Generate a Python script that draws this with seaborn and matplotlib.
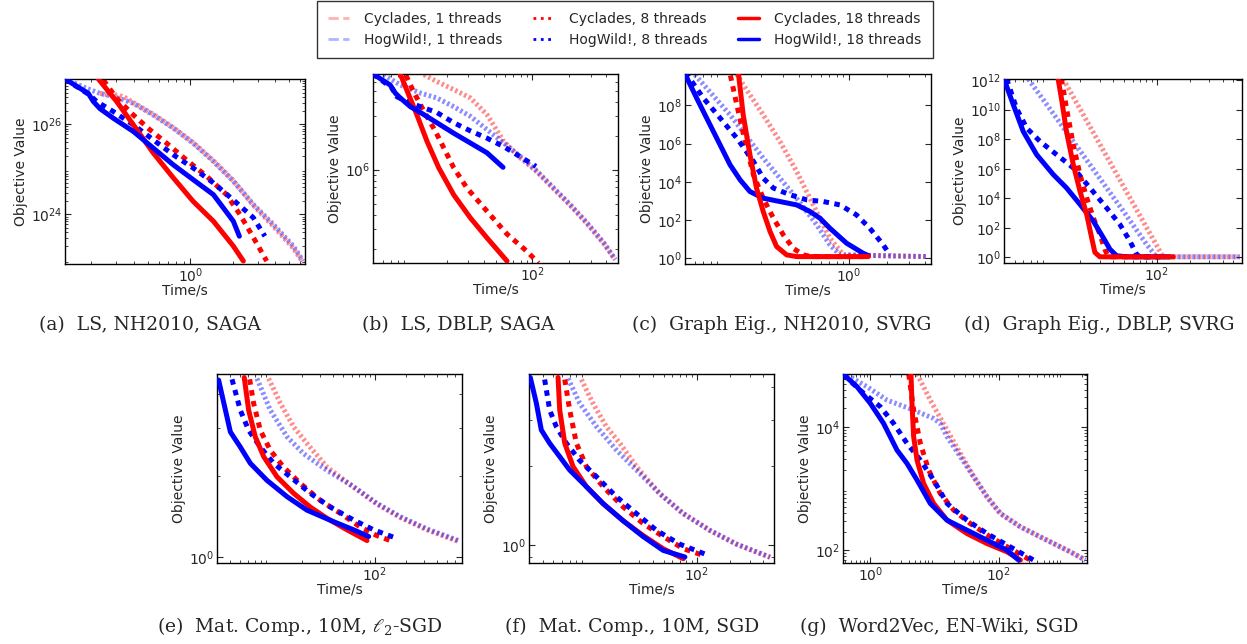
import matplotlib
matplotlib.use("Agg")
import matplotlib.pyplot as plt
import seaborn as sns
from matplotlib.lines import Line2D
from matplotlib.ticker import NullFormatter, NullLocator, LogLocator

# ---------------- DATA (time in s, objective value) ----------------
# (a) LS, NH2010, SAGA
a_cyc1_t = [0.23, 0.27, 0.31, 0.35, 0.396, 0.548, 0.759, 1.05, 1.46, 2.02, 2.80, 3.88, 5.37, 6.3]
a_cyc1_v = [4.8e26, 4.4e26, 4.4e26, 3.8e26, 3.0e26, 1.65e26, 8.4e25, 3.9e25, 1.55e25, 5.6e24, 1.6e24, 5.5e23, 1.8e23, 8.5e22]
a_hog1_t = [0.13, 0.185, 0.23, 0.286, 0.396, 0.548, 0.759, 1.05, 1.46, 2.02, 2.80, 3.88, 5.37, 6.3]
a_hog1_v = [1e27, 6.2e26, 4.8e26, 4.1e26, 2.9e26, 1.6e26, 8.2e25, 3.8e25, 1.5e25, 5.5e24, 1.66e24, 6.0e23, 2.0e23, 9.3e22]
a_cyc8_t = [0.243, 0.302, 0.396, 0.519, 0.681, 0.944, 1.31, 1.81, 2.25, 2.80, 3.48]
a_cyc8_v = [9.5e26, 3.7e26, 1.6e26, 7.5e25, 3.8e25, 1.6e25, 7.0e24, 2.75e24, 1.0e24, 3.1e23, 9.3e22]
a_hog8_t = [0.13, 0.195, 0.218, 0.286, 0.396, 0.548, 0.759, 1.05, 1.46, 2.02, 2.80, 3.38]
a_hog8_v = [1e27, 4.4e26, 3.16e26, 1.9e26, 9.7e25, 4.5e25, 2.1e25, 1.07e25, 5.0e24, 2.1e24, 8.5e23, 3.3e23]
a_cyc18_t = [0.21, 0.224, 0.302, 0.396, 0.548, 0.759, 1.05, 1.46, 2.02, 2.38]
a_cyc18_v = [1.5e27, 1e27, 3.16e26, 9.7e25, 2.3e25, 6.5e24, 1.95e24, 7.1e23, 2.0e23, 9.3e22]
a_hog18_t = [0.13, 0.19, 0.206, 0.23, 0.286, 0.396, 0.548, 0.759, 1.05, 1.46, 2.02, 2.23]
a_hog18_v = [1e27, 4.8e26, 3.2e26, 2.2e26, 1.35e26, 6.9e25, 2.95e25, 1.26e25, 5.9e24, 2.75e24, 7.1e23, 3.3e23]

# (b) LS, DBLP, SAGA
b_cyc1_t = [13.0, 16.6, 22.8, 31.2, 42.6, 58.3, 79.8, 109, 149, 204, 279, 382, 475]
b_cyc1_v = [6.9e6, 6.0e6, 5.1e6, 4.3e6, 3.06e6, 1.78e6, 1.27e6, 9.6e5, 6.8e5, 4.85e5, 3.35e5, 2.24e5, 1.6e5]
b_hog1_t = [6.1, 8.35, 12.2, 16.6, 22.8, 31.2, 42.6, 58.3, 79.8, 109, 149, 204, 279, 382, 475]
b_hog1_v = [6.9e6, 5.6e6, 4.75e6, 4.3e6, 3.6e6, 2.96e6, 2.26e6, 1.72e6, 1.31e6, 9.7e5, 6.9e5, 4.9e5, 3.4e5, 2.26e5, 1.61e5]
b_cyc8_t = [8.9, 9.18, 10.7, 13.0, 16.1, 18.9, 22.8, 29.2, 42.6, 62.1, 90.4, 112]
b_cyc8_v = [8.5e6, 7.0e6, 4.9e6, 3.3e6, 2.2e6, 1.56e6, 1.04e6, 6.9e5, 4.3e5, 2.7e5, 1.9e5, 1.5e5]
b_hog8_t = [5.0, 7.1, 7.85, 9.5, 12.2, 16.6, 22.8, 31.2, 42.6, 58.3, 79.8, 107]
b_hog8_v = [7.0e6, 5.3e6, 4.4e6, 4.0e6, 3.6e6, 3.2e6, 2.6e6, 2.2e6, 1.9e6, 1.6e6, 1.3e6, 1.07e6]
b_cyc18_t = [7.95, 8.35, 9.77, 11.4, 13.8, 17.2, 22.8, 31.2, 42.6, 62.1]
b_cyc18_v = [8.5e6, 7.0e6, 4.6e6, 3.06e6, 1.78e6, 1.04e6, 6.0e5, 3.75e5, 2.5e5, 1.56e5]
b_hog18_t = [5.0, 6.9, 7.6, 8.35, 10.1, 12.2, 16.6, 22.8, 31.2, 42.6, 57.6]
b_hog18_v = [7.0e6, 5.6e6, 4.75e6, 4.3e6, 3.6e6, 3.2e6, 2.6e6, 2.1e6, 1.72e6, 1.41e6, 1.05e6]

# (c) Graph Eig., NH2010, SVRG
c_cyc1_t = [0.129, 0.145, 0.209, 0.284, 0.385, 0.522, 0.709, 0.906, 4.15]
c_cyc1_v = [4.4e9, 1.21e9, 3.2e7, 1.3e6, 3.5e4, 6.2e2, 11.2, 1.5, 1.22]
c_hog1_t = [0.060, 0.114, 0.209, 0.385, 0.556, 0.709, 0.851, 4.15]
c_hog1_v = [4.0e9, 3.2e7, 1.74e5, 1.39e3, 56, 5.0, 1.5, 1.22]
c_cyc8_t = [0.110, 0.114, 0.129, 0.150, 0.175, 0.209, 0.252, 0.302, 0.362, 0.435, 0.507, 1.43]
c_cyc8_v = [1.35e10, 4.4e9, 1.08e8, 1.3e6, 2.3e4, 1.39e3, 1.25e2, 16.7, 3.3, 1.5, 1.22, 1.22]
c_hog8_t = [0.05, 0.0515, 0.070, 0.0949, 0.129, 0.175, 0.209, 0.252, 0.341, 0.463, 0.628, 0.851, 1.15, 1.47, 1.88, 2.12]
c_hog8_v = [5e9, 4.4e9, 2.4e8, 2.2e7, 1.94e6, 1.16e5, 1.56e4, 4.7e3, 2.1e3, 1.14e3, 9.3e2, 6.2e2, 1.87e2, 37, 5.0, 1.5]
c_cyc18_t = [0.129, 0.133, 0.145, 0.164, 0.185, 0.209, 0.237, 0.267, 0.321, 0.385, 1.43]
c_cyc18_v = [1.35e10, 4.4e9, 3.2e7, 2.6e5, 4.7e3, 2.8e2, 25, 4.1, 1.5, 1.22, 1.22]
c_hog18_t = [0.05, 0.0619, 0.079, 0.0949, 0.114, 0.137, 0.164, 0.209, 0.284, 0.385, 0.492, 0.590, 0.709, 0.962, 1.30, 1.43]
c_hog18_v = [4.4e9, 2.4e8, 9.7e6, 8.7e5, 7.8e4, 1.27e4, 3.1e3, 1.39e3, 9.3e2, 6.2e2, 2.8e2, 1.25e2, 37, 6.1, 1.83, 1.38]

# (d) Graph Eig., DBLP, SVRG
d_cyc1_t = [13.9, 24.4, 49.2, 80.2, 106, 114, 571]
d_cyc1_v = [1.17e12, 7.2e8, 6.9e4, 1.1e2, 2.8, 1.1, 1.1]
d_hog1_t = [6.67, 12.1, 24.4, 49.2, 80.2, 99, 571]
d_hog1_v = [1.17e12, 2.6e9, 1.9e6, 1.38e3, 7.9, 1.1, 1.1]
d_cyc8_t = [13.4, 14.9, 17.2, 19.8, 22.8, 26.2, 30.1, 33.4, 35.9, 100]
d_cyc8_v = [1.17e12, 1.24e10, 4.2e7, 4.0e5, 1.09e4, 4.9e2, 37, 3.6, 1.1, 1.1]
d_hog8_t = [4.23, 5.2, 6.45, 8.53, 12.1, 17.2, 24.4, 34.6, 45.8, 56.5, 65.0, 70.0, 110]
d_hog8_v = [1.17e12, 1.24e10, 5.6e8, 7.1e7, 9.0e6, 1.14e6, 5.1e4, 2.3e3, 1.75e2, 13.2, 1.67, 1.1, 1.1]
d_cyc18_t = [12.3, 12.5, 13.4, 14.9, 17.2, 19.8, 22.8, 25.3, 27.1, 30.1, 141]
d_cyc18_v = [1e13, 1.17e12, 5.8e10, 3.3e8, 1.9e6, 3.05e4, 8.2e2, 22, 2.2, 1.1, 1.1]
d_hog18_t = [4.0, 4.87, 6.0, 7.95, 11.3, 14.9, 19.8, 26.2, 32.3, 37.2, 42.8, 52.7, 130]
d_hog18_v = [1.17e12, 2.1e10, 3.3e8, 9.0e6, 4.0e5, 5.1e4, 3.9e3, 2.9e2, 22, 3.6, 1.3, 1.1, 1.1]

# (e) Mat. Comp., 10M, l2-SGD
e_cyc1_t = [9.46, 12.3, 16.5, 22.2, 34.7, 62.8, 105, 177, 321, 650]
e_cyc1_v = [4.57, 3.7, 3.03, 2.63, 2.15, 1.81, 1.57, 1.40, 1.26, 1.14]
e_hog1_t = [7.3, 9.83, 14.3, 20.6, 34.7, 62.8, 105, 177, 321, 650]
e_hog1_v = [4.57, 3.49, 2.78, 2.41, 2.09, 1.82, 1.58, 1.41, 1.27, 1.15]
e_cyc8_t = [6.2, 6.78, 7.87, 9.83, 13.2, 19.2, 29.9, 46.7, 72.8, 105, 142]
e_cyc8_v = [4.54, 3.7, 2.94, 2.48, 2.15, 1.87, 1.62, 1.45, 1.29, 1.2, 1.15]
e_hog8_t = [4.19, 5.04, 6.07, 7.87, 10.6, 15.3, 23.9, 37.3, 62.8, 98, 165]
e_hog8_v = [4.54, 3.49, 2.94, 2.55, 2.22, 1.98, 1.72, 1.53, 1.37, 1.26, 1.17]
e_cyc18_t = [5.5, 6.07, 7.04, 8.48, 11.4, 16.5, 23.9, 34.7, 54.1, 84.5]
e_cyc18_v = [4.61, 3.49, 2.78, 2.35, 1.98, 1.72, 1.53, 1.39, 1.26, 1.15]
e_hog18_t = [3.11, 4.04, 5.04, 6.3, 9.13, 14.3, 22.2, 40.3, 62.8, 87.7]
e_hog18_v = [4.51, 2.9, 2.55, 2.22, 1.92, 1.67, 1.49, 1.35, 1.26, 1.19]

# (f) Mat. Comp., 10M, SGD
f_cyc1_t = [8.96, 11.4, 15.1, 20.0, 28.3, 46.1, 75.2, 131, 229, 460]
f_cyc1_v = [4.26, 3.46, 2.82, 2.44, 1.99, 1.57, 1.32, 1.14, 1.01, 0.9]
f_hog1_t = [6.78, 8.65, 12.3, 18.6, 28.3, 46.1, 75.2, 131, 229, 460]
f_hog1_v = [4.3, 3.46, 2.82, 2.3, 1.93, 1.57, 1.32, 1.14, 1.01, 0.903]
f_cyc8_t = [6.33, 7.02, 8.07, 9.95, 14.1, 21.4, 32.5, 49.4, 75.2, 114]
f_cyc8_v = [4.26, 3.26, 2.44, 1.99, 1.67, 1.4, 1.21, 1.08, 0.971, 0.916]
f_hog8_t = [4.16, 4.62, 5.31, 6.55, 8.65, 12.3, 18.6, 28.3, 43.0, 70.0, 127]
f_hog8_v = [4.26, 3.26, 2.82, 2.44, 2.1, 1.82, 1.53, 1.32, 1.14, 1.01, 0.916]
f_cyc18_t = [5.5, 5.7, 6.33, 7.53, 9.95, 14.1, 21.4, 32.5, 49.4, 75.2]
f_cyc18_v = [4.34, 3.26, 2.44, 1.99, 1.67, 1.44, 1.24, 1.09, 0.971, 0.89]
f_hog18_t = [3.08, 3.5, 3.88, 4.62, 5.7, 7.02, 9.95, 14.1, 21.4, 32.5, 49.4, 77.8]
f_hog18_v = [4.34, 3.46, 2.74, 2.44, 2.17, 1.93, 1.67, 1.44, 1.24, 1.08, 0.957, 0.903]

# (g) Word2Vec, EN-Wiki, SGD
g_cyc1_t = [5.34, 8.6, 15.7, 25.3, 40.8, 65.8, 106, 218, 566, 1309, 2243]
g_cyc1_v = [71500, 27000, 8830, 3700, 1550, 733, 394, 239, 145, 94, 69]
g_hog1_t = [0.433, 0.887, 1.82, 4.73, 9.7, 12.3, 15.7, 25.3, 40.8, 65.8, 106, 218, 566, 1309, 2243]
g_hog1_v = [68900, 44500, 27000, 18600, 13600, 11300, 6890, 3270, 1550, 733, 394, 239, 145, 94, 69]
g_cyc8_t = [3.96, 4.73, 6.02, 8.11, 12.3, 19.9, 36.2, 74.1, 152, 312]
g_cyc8_v = [71500, 18600, 5370, 1980, 830, 446, 270, 164, 106, 69]
g_hog8_t = [0.384, 0.787, 1.43, 2.31, 3.73, 6.02, 9.7, 15.7, 32.1, 65.8, 152, 351]
g_hog8_v = [68900, 34800, 21100, 11300, 5370, 2880, 1370, 571, 306, 186, 113, 69]
g_cyc18_t = [4.2, 4.3, 4.46, 4.73, 5.34, 6.78, 9.7, 15.7, 32.1, 65.8, 135, 218]
g_cyc18_v = [83000, 71500, 23900, 6890, 2880, 1200, 571, 306, 186, 128, 94, 69]
g_hog18_t = [0.375, 0.62, 1.0, 1.61, 2.6, 3.73, 5.34, 8.6, 15.7, 32.1, 65.8, 135, 205]
g_hog18_v = [71500, 44500, 23900, 11300, 4190, 2540, 1370, 571, 306, 211, 145, 100, 69]

captions = ["(a)  LS, NH2010, SAGA", "(b)  LS, DBLP, SAGA",
            "(c)  Graph Eig., NH2010, SVRG", "(d)  Graph Eig., DBLP, SVRG",
            r"(e)  Mat. Comp., 10M, $\ell_2$-SGD", "(f)  Mat. Comp., 10M, SGD",
            "(g)  Word2Vec, EN-Wiki, SGD"]

# ---------------- STYLE ----------------
sns.set_style("ticks")
plt.rcParams["font.family"] = ["DejaVu Sans"]
plt.rcParams.update({
    "xtick.direction": "in", "ytick.direction": "in",
    "xtick.top": True, "ytick.right": True,
    "xtick.major.size": 4, "ytick.major.size": 4,
    "xtick.minor.size": 2, "ytick.minor.size": 2,
    "xtick.major.pad": 2, "ytick.major.pad": 2,
    "xtick.labelsize": 10, "ytick.labelsize": 10,
    "axes.labelsize": 10, "axes.linewidth": 1.0,
    "axes.edgecolor": "black",
})

RED, BLUE = "#ff0000", "#0000ff"
LW = 3.6
styles = {
    1: dict(linestyle=(0, (0.5, 0.5)), alpha=0.45, zorder=1),
    8: dict(linestyle=(0, (1.1, 1.1)), alpha=1.0, zorder=2),
    18: dict(linestyle="-", alpha=1.0, zorder=3),
}

fig = plt.figure(figsize=(12.47, 6.44), dpi=100)

# panel geometry (pixels): left, top, right, bottom
boxes = [(65, 79, 305, 264), (373, 74, 618, 263), (685, 74, 931, 264), (1004, 79, 1242, 263),
         (217, 374, 462, 563), (529, 374, 774, 563), (843, 374, 1087, 563)]
xlims = [(0.13, 6.5), (5, 500), (0.05, 4.5), (4, 600), (3, 700), (3, 500), (0.375, 2380)]
ylims = [(8e22, 1e27), (1.5e5, 7e6), (0.5, 4.4e9), (0.42, 1.17e12), (0.95, 4.75), (0.857, 4.47), (62, 71500)]
xticks = [[1e0], [1e2], [1e0], [1e2], [1e2], [1e2], [1e0, 1e2]]
yticks = [[1e24, 1e26], [1e6], [1e0, 1e2, 1e4, 1e6, 1e8], [1e0, 1e2, 1e4, 1e6, 1e8, 1e10, 1e12],
          [1e0], [1e0], [1e2, 1e4]]
ymin_on = [True, True, False, False, True, True, True]
cap_pos = [(150, 325), (458, 325), (782, 325), (1099, 325), (300, 627), (632, 627), (939, 627)]

panels = [
    [(a_cyc1_t, a_cyc1_v, RED, 1), (a_hog1_t, a_hog1_v, BLUE, 1), (a_cyc8_t, a_cyc8_v, RED, 8),
     (a_hog8_t, a_hog8_v, BLUE, 8), (a_cyc18_t, a_cyc18_v, RED, 18), (a_hog18_t, a_hog18_v, BLUE, 18)],
    [(b_cyc1_t, b_cyc1_v, RED, 1), (b_hog1_t, b_hog1_v, BLUE, 1), (b_cyc8_t, b_cyc8_v, RED, 8),
     (b_hog8_t, b_hog8_v, BLUE, 8), (b_cyc18_t, b_cyc18_v, RED, 18), (b_hog18_t, b_hog18_v, BLUE, 18)],
    [(c_cyc1_t, c_cyc1_v, RED, 1), (c_hog1_t, c_hog1_v, BLUE, 1), (c_cyc8_t, c_cyc8_v, RED, 8),
     (c_hog8_t, c_hog8_v, BLUE, 8), (c_hog18_t, c_hog18_v, BLUE, 18), (c_cyc18_t, c_cyc18_v, RED, 18)],
    [(d_cyc1_t, d_cyc1_v, RED, 1), (d_hog1_t, d_hog1_v, BLUE, 1), (d_cyc8_t, d_cyc8_v, RED, 8),
     (d_hog8_t, d_hog8_v, BLUE, 8), (d_hog18_t, d_hog18_v, BLUE, 18), (d_cyc18_t, d_cyc18_v, RED, 18)],
    [(e_cyc1_t, e_cyc1_v, RED, 1), (e_hog1_t, e_hog1_v, BLUE, 1), (e_cyc8_t, e_cyc8_v, RED, 8),
     (e_hog8_t, e_hog8_v, BLUE, 8), (e_cyc18_t, e_cyc18_v, RED, 18), (e_hog18_t, e_hog18_v, BLUE, 18)],
    [(f_cyc1_t, f_cyc1_v, RED, 1), (f_hog1_t, f_hog1_v, BLUE, 1), (f_cyc8_t, f_cyc8_v, RED, 8),
     (f_hog8_t, f_hog8_v, BLUE, 8), (f_cyc18_t, f_cyc18_v, RED, 18), (f_hog18_t, f_hog18_v, BLUE, 18)],
    [(g_cyc1_t, g_cyc1_v, RED, 1), (g_hog1_t, g_hog1_v, BLUE, 1), (g_cyc8_t, g_cyc8_v, RED, 8),
     (g_hog8_t, g_hog8_v, BLUE, 8), (g_cyc18_t, g_cyc18_v, RED, 18), (g_hog18_t, g_hog18_v, BLUE, 18)],
]

W, H = 1247, 644
for i, curves in enumerate(panels):
    l, t, r, b = boxes[i]
    ax = fig.add_axes([l / W, 1 - b / H, (r - l) / W, (b - t) / H])
    ax.set_xscale("log")
    ax.set_yscale("log")
    for tt, vv, col, th in curves:
        sns.lineplot(x=tt, y=vv, ax=ax, color=col, lw=LW, **styles[th])
    ax.set_xlim(*xlims[i])
    ax.set_ylim(*ylims[i])
    ax.set_xticks(xticks[i])
    ax.set_yticks(yticks[i])
    ax.xaxis.set_minor_locator(LogLocator(base=10, subs=range(2, 10), numticks=50))
    if ymin_on[i]:
        ax.yaxis.set_minor_locator(LogLocator(base=10, subs=range(2, 10), numticks=50))
    else:
        ax.yaxis.set_minor_locator(NullLocator())
    ax.xaxis.set_minor_formatter(NullFormatter())
    ax.yaxis.set_minor_formatter(NullFormatter())
    ax.tick_params(which="both", top=True, right=True, direction="in")
    ax.set_xlabel("Time/s", labelpad=-1)
    ax.set_ylabel("Objective Value", labelpad=2)
    for s in ax.spines.values():
        s.set_visible(True)
        s.set_color("black")
    cx, cy = cap_pos[i]
    fig.text(cx / W, 1 - cy / H, captions[i], ha="center", va="center",
             fontsize=13.5, family="DejaVu Serif", math_fontfamily="dejavuserif")

# legend with proxy handles
handles = [
    Line2D([], [], color=RED, lw=2, linestyle="--", alpha=0.3),
    Line2D([], [], color=BLUE, lw=2, linestyle="--", alpha=0.3),
    Line2D([], [], color=RED, lw=2, linestyle=":"),
    Line2D([], [], color=BLUE, lw=2, linestyle=":"),
    Line2D([], [], color=RED, lw=2.5, linestyle="-"),
    Line2D([], [], color=BLUE, lw=2.5, linestyle="-"),
]
labels = ["Cyclades, 1 threads", "HogWild!, 1 threads",
          "Cyclades, 8 threads", "HogWild!, 8 threads",
          "Cyclades, 18 threads", "HogWild!, 18 threads"]
leg = fig.legend(handles, labels, ncol=3, loc="upper center",
                 bbox_to_anchor=(625 / W, 1 - 1 / H), borderaxespad=0, fontsize=10,
                 frameon=True, fancybox=False, edgecolor="black",
                 handlelength=1.5, handletextpad=1.1, columnspacing=2.2,
                 labelspacing=0.5, borderpad=0.8)
leg.get_frame().set_linewidth(1.0)

fig.savefig("out.png", dpi=100)
